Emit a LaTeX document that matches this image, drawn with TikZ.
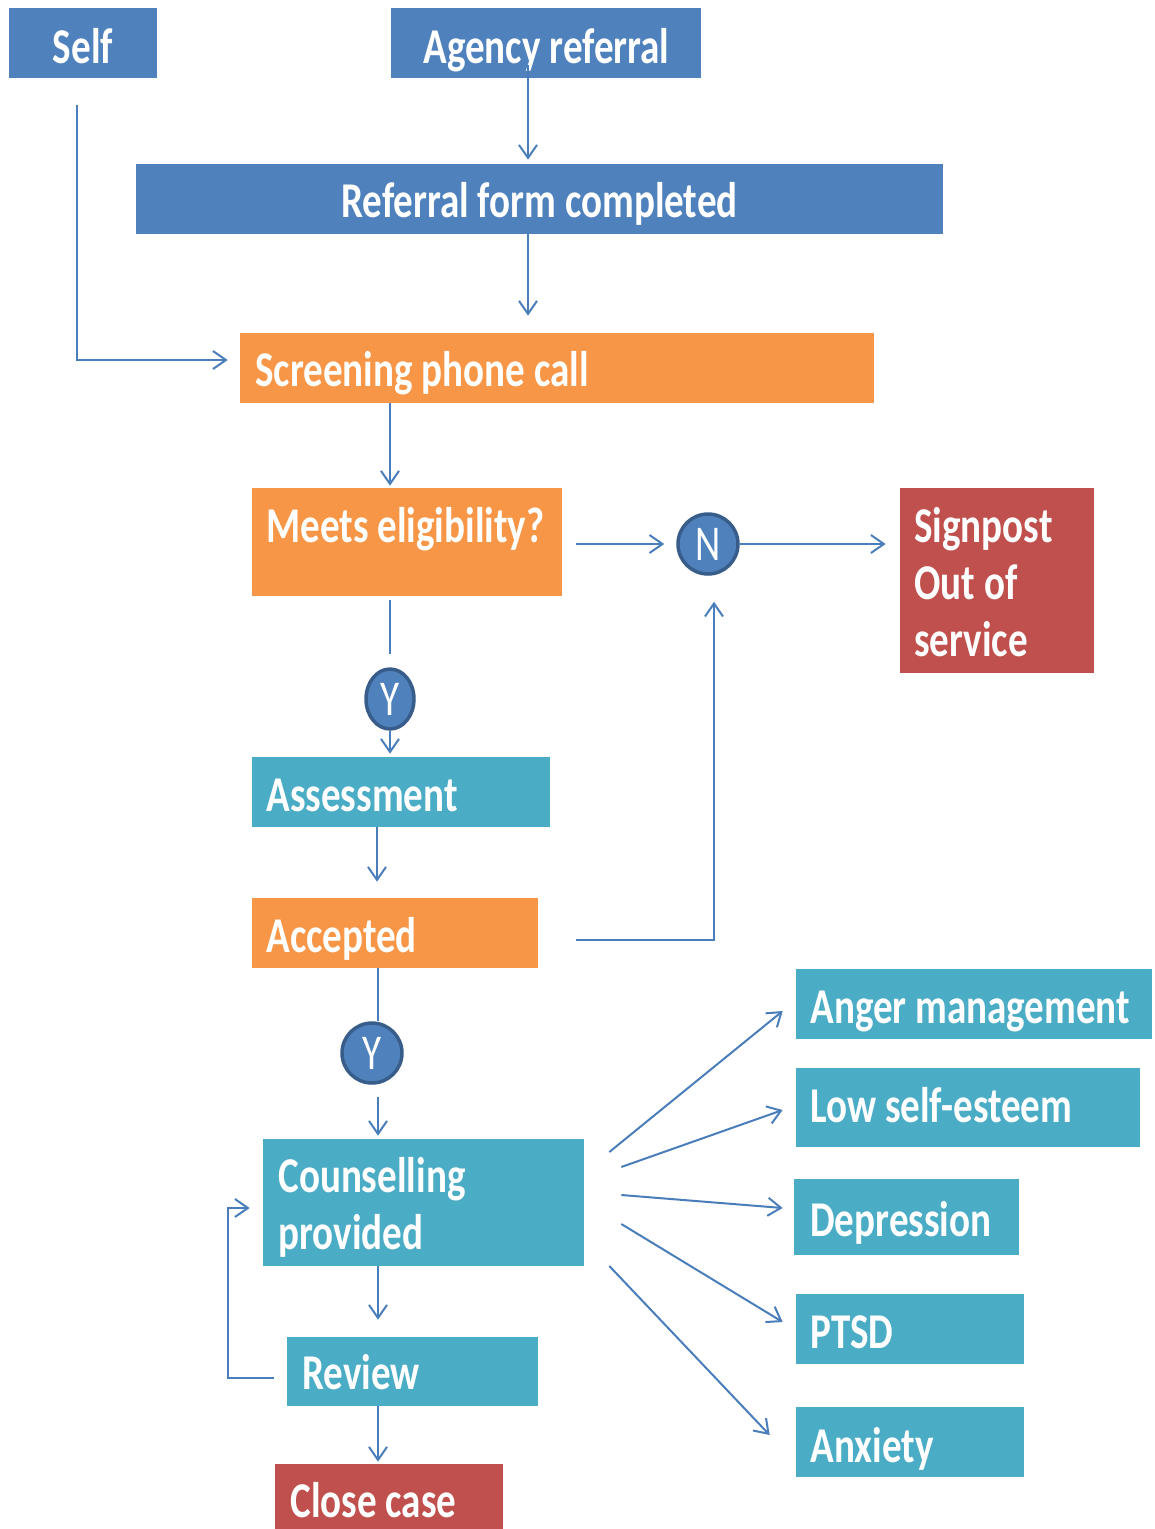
\documentclass[tikz,border=0pt]{standalone}
\usepackage{fontspec}
\setmainfont[FakeStretch=0.78]{Carlito}
\usetikzlibrary{arrows.meta,shapes.geometric,calc}
\definecolor{cblue}{HTML}{4F81BD}
\definecolor{corange}{HTML}{F79646}
\definecolor{cteal}{HTML}{4BACC6}
\definecolor{cred}{HTML}{C0504D}
\definecolor{cline}{HTML}{4A7EBB}
\definecolor{cborder}{HTML}{385D8A}
\tikzset{
  box/.style={rectangle, inner sep=0pt, draw=none},
  bluebox/.style={box, fill=cblue},
  orangebox/.style={box, fill=corange},
  tealbox/.style={box, fill=cteal},
  redbox/.style={box, fill=cred},
  txt/.style={text=white, font=\bfseries\fontsize{28.5pt}{34pt}\selectfont, inner sep=0pt, anchor=base west},
  ctxt/.style={txt, anchor=base},
  yn/.style={ellipse, fill=cblue, draw=cborder, line width=0.07cm, text=white, font=\fontsize{28.5pt}{34pt}\selectfont, inner sep=0pt},
  arr/.style={draw=cline, line width=0.04cm, -{Straight Barb[length=0.26cm, width=0.36cm]}},
  ln/.style={draw=cline, line width=0.04cm},
}
\begin{document}
\begin{tikzpicture}[x=0.02cm, y=-0.02cm]
\useasboundingbox (0,0) rectangle (1154,1529);
% boxes
\node[bluebox, minimum width=2.96cm, minimum height=1.4cm] (self) at (83,43) {};
\node[bluebox, minimum width=6.2cm, minimum height=1.4cm] (agency) at (546,43) {};
\node[bluebox, minimum width=16.14cm, minimum height=1.4cm] (referral) at (539.5,199) {};
\node[orangebox, minimum width=12.68cm, minimum height=1.4cm] (screen) at (557,368) {};
\node[orangebox, minimum width=6.2cm, minimum height=2.16cm] (meets) at (407,542) {};
\node[redbox, minimum width=3.88cm, minimum height=3.7cm] (sign) at (997,580.5) {};
\node[tealbox, minimum width=5.96cm, minimum height=1.4cm] (assess) at (401,792) {};
\node[orangebox, minimum width=5.72cm, minimum height=1.4cm] (accept) at (395,933) {};
\node[tealbox, minimum width=6.42cm, minimum height=2.54cm] (couns) at (423.5,1202.5) {};
\node[tealbox, minimum width=5.02cm, minimum height=1.38cm] (review) at (412.5,1371.5) {};
\node[redbox, minimum width=4.56cm, minimum height=1.4cm] (close) at (389,1499) {};
\node[tealbox, minimum width=7.12cm, minimum height=1.4cm] (anger) at (974,1004) {};
\node[tealbox, minimum width=6.88cm, minimum height=1.58cm] (low) at (968,1107.5) {};
\node[tealbox, minimum width=4.5cm, minimum height=1.52cm] (dep) at (906.5,1217) {};
\node[tealbox, minimum width=4.56cm, minimum height=1.4cm] (ptsd) at (910,1329) {};
\node[tealbox, minimum width=4.56cm, minimum height=1.4cm] (anx) at (910,1442) {};
% circles
\node[yn, minimum width=1.2cm, minimum height=1.2cm] (n) at (708,544) {N};
\node[yn, minimum width=0.96cm, minimum height=1.2cm] (y1) at (390,699) {Y};
\node[yn, minimum width=1.2cm, minimum height=1.2cm] (y2) at (372,1053) {Y};
% texts
\node[ctxt] (self-t) at (83,63) {Self};
\node[ctxt] (agency-t) at (546.5,63) {Agency referral};
\node[ctxt] (referral-t) at (539.5,217) {Referral form completed};
\node[txt] (screen-t) at (255,386) {Screening phone call};
\node[txt] (meets-t) at (266,542) {Meets eligibility?};
\node[txt] (sign-t1) at (914,542) {Signpost};
\node[txt] (sign-t2) at (914,599) {Out of};
\node[txt] (sign-t3) at (914,656) {service};
\node[txt] (assess-t) at (266,811) {Assessment};
\node[txt] (accept-t) at (266,952) {Accepted};
\node[txt] (couns-t1) at (278,1192) {Counselling};
\node[txt] (couns-t2) at (278,1249) {provided};
\node[txt] (review-t) at (302,1389) {Review};
\node[txt] (close-t) at (290,1517) {Close case};
\node[txt] (anger-t) at (810,1023) {Anger management};
\node[txt] (low-t) at (810,1122) {Low self-esteem};
\node[txt] (dep-t) at (810,1236) {Depression};
\node[txt] (ptsd-t) at (810,1348) {PTSD};
\node[txt] (anx-t) at (810,1462) {Anxiety};
% connectors
\draw[arr] ($(self.south)+(-6,27)$) |- ($(screen.west)+(-12,-8)$);
\draw[arr] ($(agency.south)+(-18,-13)$) -- ($(referral.north)+(-11.5,-4)$);
\draw[arr] ($(referral.south)+(-11.5,0)$) -- ($(screen.north)+(-29,-17)$);
\draw[arr] ($(screen.south)+(-167,0)$) -- ($(meets.north)+(-17,-2)$);
\draw[arr] ($(meets.east)+(14,2)$) -- ($(n.west)+(-12,0)$);
\draw[arr] (n.east) -- ($(sign.west)+(-14,-36.5)$);
\draw[ln] ($(meets.south)+(-17,4)$) -- ($(y1.north)+(0,-13)$);
\draw[arr] (y1.south) -- ($(assess.north)+(-11,-3)$);
\draw[arr] ($(assess.south)+(-24,0)$) -- ($(accept.north)+(-18,-16)$);
\draw[arr] ($(accept.east)+(38,7)$) -| ($(n.south)+(6,26)$);
\draw[ln] ($(accept.south)+(-17,0)$) -- ($(y2.north)+(6,0)$);
\draw[arr] ($(y2.south)+(6,12)$) -- ($(couns.north)+(-45.5,-3)$);
\draw[arr] ($(couns.south)+(-45.5,0)$) -- ($(review.north)+(-34.5,-17)$);
\draw[arr] ($(review.south)+(-34.5,0)$) -- ($(close.north)+(-11,-2)$);
\draw[arr] ($(review.west)+(-13,6.5)$) -- ++(-46,0) |- ($(couns.west)+(-13,5.5)$);
\draw[arr] ($(couns.east)+(25,-50.5)$) -- ($(anger.west)+(-13,7)$);
\draw[arr] ($(couns.east)+(37,-35.5)$) -- ($(low.west)+(-13,2.5)$);
\draw[arr] ($(couns.east)+(37,-7.5)$) -- ($(dep.west)+(-11,-9)$);
\draw[arr] ($(couns.east)+(37,21.5)$) -- ($(ptsd.west)+(-13,-7)$);
\draw[arr] ($(couns.east)+(25,63.5)$) -- ($(anx.west)+(-26,-7)$);
\end{tikzpicture}
\end{document}
